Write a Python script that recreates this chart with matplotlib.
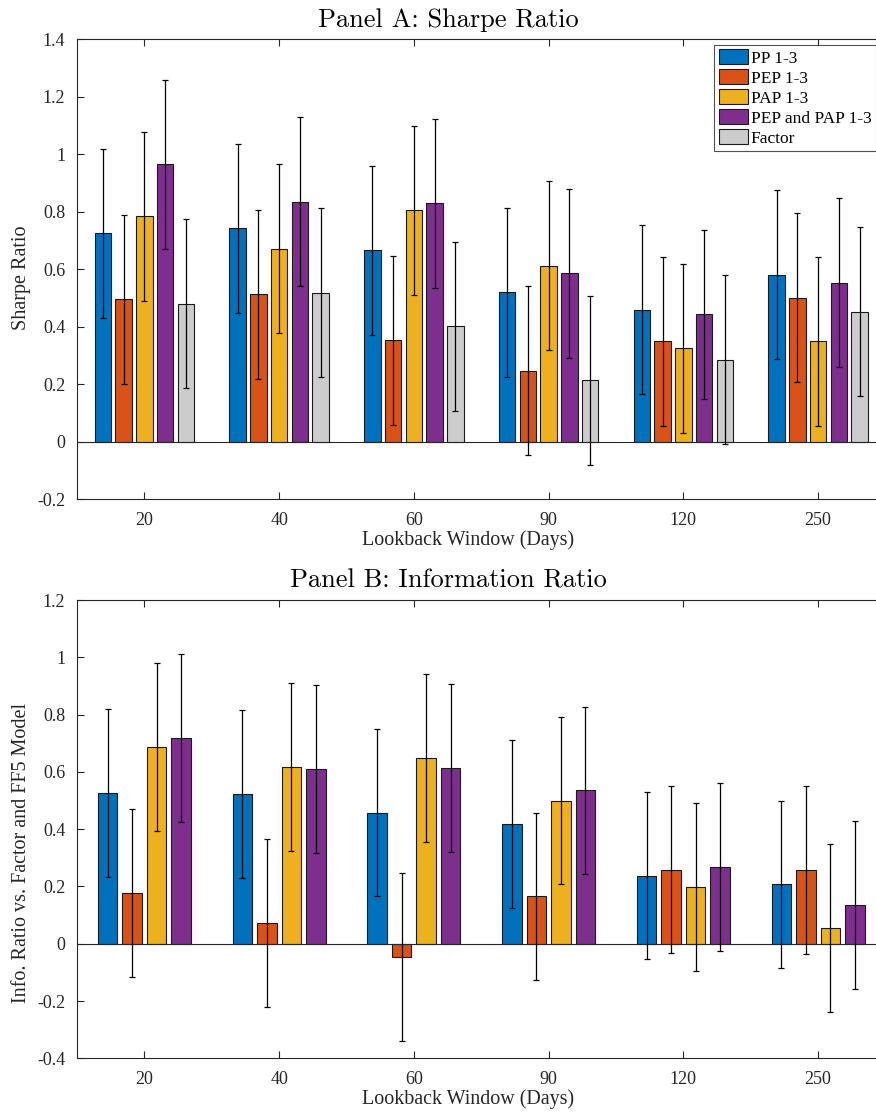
import numpy as np
import matplotlib
matplotlib.use("Agg")
import matplotlib.pyplot as plt

plt.rcParams['font.family'] = ['Liberation Serif', 'DejaVu Serif']

# Data
windows = ['20', '40', '60', '90', '120', '250']
series_a = ['PP 1-3', 'PEP 1-3', 'PAP 1-3', 'PEP and PAP 1-3', 'Factor']
sharpe_pp = [0.725, 0.742, 0.666, 0.521, 0.460, 0.581]
sharpe_pep = [0.495, 0.514, 0.354, 0.247, 0.349, 0.501]
sharpe_pap = [0.784, 0.672, 0.806, 0.612, 0.325, 0.350]
sharpe_both = [0.965, 0.835, 0.829, 0.586, 0.444, 0.553]
sharpe_factor = [0.480, 0.518, 0.402, 0.214, 0.286, 0.452]
sharpe_err = [0.294, 0.294, 0.294, 0.294, 0.294, 0.294]

info_pp = [0.526, 0.524, 0.458, 0.419, 0.238, 0.207]
info_pep = [0.176, 0.071, -0.045, 0.165, 0.259, 0.256]
info_pap = [0.686, 0.616, 0.649, 0.500, 0.197, 0.056]
info_both = [0.719, 0.609, 0.613, 0.535, 0.269, 0.135]
info_err = [0.293, 0.293, 0.293, 0.293, 0.293, 0.293]

colors = ['#0072BD', '#D95319', '#EDB120', '#7E2F8E', '#CCCCCC']
axcol = '#262626'


def grouped(ax, data, err, labels):
    n = len(data)
    x = np.arange(1, len(windows) + 1)
    gw = min(0.8, n / (n + 1.5))
    step = gw / n
    for i, vals in enumerate(data):
        pos = x - gw / 2 + step * (i + 0.5)
        ax.bar(pos, vals, width=step * 0.8, color=colors[i], edgecolor='#1a1a1a',
               linewidth=0.8, label=labels[i], zorder=2)
        ax.errorbar(pos, vals, yerr=err, fmt='none', ecolor='black',
                    elinewidth=0.9, capsize=2.3, capthick=0.9, zorder=3)
    ax.axhline(0, color=axcol, linewidth=0.8, zorder=2.5)
    ax.set_xlim(0.5, 6.5)
    ax.set_xticks(x)
    ax.set_xticklabels(windows)
    ax.tick_params(direction='in', top=True, right=True, length=5,
                   colors=axcol, labelsize=13, width=0.8)
    ax.tick_params(axis='x', pad=9)
    ax.tick_params(axis='y', pad=8.5)
    for s in ax.spines.values():
        s.set_color(axcol)
        s.set_linewidth(0.8)
    ax.set_xlabel('Lookback Window (Days)', fontsize=14.4, color=axcol)
    ax.xaxis.set_label_coords(0.484, -0.068)


fig = plt.figure(figsize=(8.76, 11.14), dpi=100)

ax1 = fig.add_axes([0.0879, 0.5518, 0.9229, 0.4129])
grouped(ax1, [sharpe_pp, sharpe_pep, sharpe_pap, sharpe_both, sharpe_factor],
        sharpe_err, series_a)
ax1.set_ylim(-0.2, 1.4)
ax1.set_yticks(np.arange(-0.2, 1.41, 0.2))
ax1.set_yticklabels(['-0.2', '0', '0.2', '0.4', '0.6', '0.8', '1', '1.2', '1.4'])
ax1.set_ylabel('Sharpe Ratio', fontsize=14.5, color=axcol)
ax1.yaxis.set_label_coords(-0.057, 0.481)
ax1.set_title('Panel A: Sharpe Ratio', fontsize=19, family='cmr10',
              x=0.459, pad=9)
leg = ax1.legend(loc='upper right', bbox_to_anchor=(0.988, 0.988), fontsize=12.5,
                 frameon=True, fancybox=False, edgecolor=axcol,
                 handlelength=1.7, handleheight=0.95, handletextpad=0.15,
                 labelspacing=0.15, borderpad=0.25, borderaxespad=0)
leg.get_frame().set_linewidth(0.8)

ax2 = fig.add_axes([0.0879, 0.05, 0.9229, 0.4114])
grouped(ax2, [info_pp, info_pep, info_pap, info_both], info_err, series_a[:4])
ax2.set_ylim(-0.4, 1.2)
ax2.set_yticks(np.arange(-0.4, 1.21, 0.2))
ax2.set_yticklabels(['-0.4', '-0.2', '0', '0.2', '0.4', '0.6', '0.8', '1', '1.2'])
ax2.set_ylabel('Info. Ratio vs. Factor and FF5 Model', fontsize=14.5, color=axcol)
ax2.yaxis.set_label_coords(-0.057, 0.448)
ax2.set_title('Panel B: Information Ratio', fontsize=19, family='cmr10',
              x=0.459, pad=9)

fig.savefig('out.png', dpi=100)
